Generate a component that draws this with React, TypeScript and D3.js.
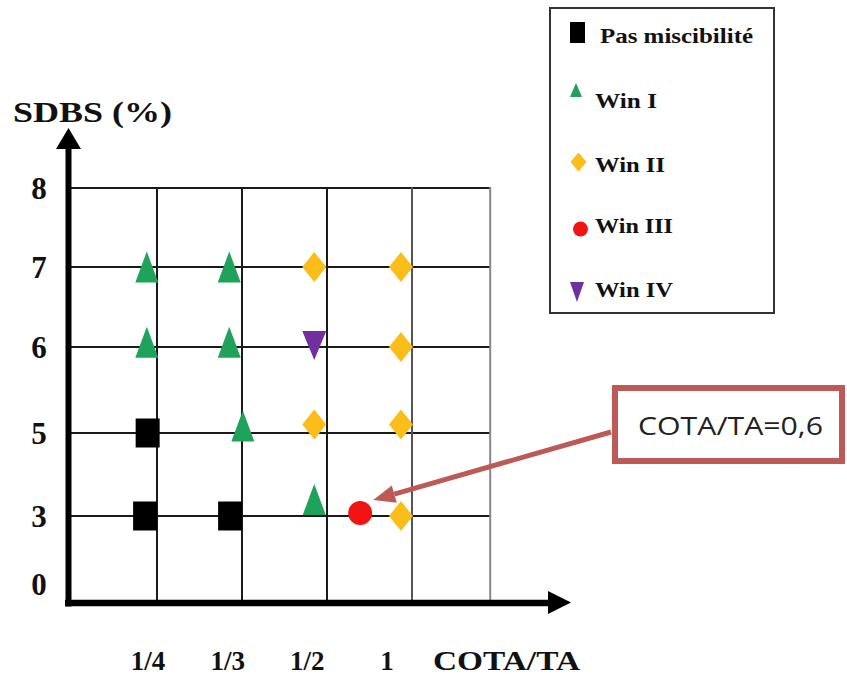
import React from "react";
import * as d3 from "d3";

// ---- data ----
const xTickLabels = ["1/4", "1/3", "1/2", "1"];
const xAxisTitle = "COTA/TA";
const yLevels = [0, 3, 5, 6, 7, 8];
const yAxisTitle = "SDBS (%)";
const legendNames = ["Pas miscibilité", "Win I", "Win II", "Win III", "Win IV"];
// x expressed in grid-column units (column lines at 1,2,3,4)
const pasMiscibilite = [
  { x: 0.89, y: 5 },
  { x: 0.86, y: 3 },
  { x: 1.86, y: 3 },
];
const winI = [
  { x: 0.88, y: 7 },
  { x: 0.88, y: 6.06 },
  { x: 1.85, y: 7 },
  { x: 1.85, y: 6.06 },
  { x: 2.01, y: 5.08 },
  { x: 2.85, y: 3.4 },
];
const winII = [
  { x: 2.85, y: 7 },
  { x: 3.87, y: 7 },
  { x: 3.87, y: 6 },
  { x: 2.85, y: 5.1 },
  { x: 3.87, y: 5.1 },
  { x: 3.87, y: 3 },
];
const winIII = [{ x: 3.39, y: 3.07 }];
const winIV = [{ x: 2.85, y: 6.02 }];
const gridColumns = [1, 2, 3, 4, 4.92];
const annotationText = "COTA/TA=0,6";

const GREEN = "#1fa25a";
const YELLOW = "#fbbd19";
const RED = "#f21313";
const PURPLE = "#7030a0";
const BROWN = "#bd5a57";
const SERIF = "'Liberation Serif', 'Times New Roman', serif";

type Kind = "square" | "tri" | "diamond" | "circle" | "down";

function Marker({ kind, cx, cy, w, h, color }: { kind: Kind; cx: number; cy: number; w: number; h: number; color: string }) {
  if (kind === "square") return <rect x={cx - w / 2} y={cy - h / 2} width={w} height={h} fill={color} />;
  if (kind === "circle") return <circle cx={cx} cy={cy} r={w / 2} fill={color} />;
  let pts: [number, number][];
  if (kind === "tri") pts = [[cx, cy - h / 2], [cx + w / 2, cy + h / 2], [cx - w / 2, cy + h / 2]];
  else if (kind === "down") pts = [[cx - w / 2, cy - h / 2], [cx + w / 2, cy - h / 2], [cx, cy + h / 2]];
  else pts = [[cx, cy - h / 2], [cx + w / 2, cy], [cx, cy + h / 2], [cx - w / 2, cy]];
  return <polygon points={pts.map((p) => p.join(",")).join(" ")} fill={color} />;
}

export default function App() {
  const x = d3.scaleLinear().domain([0, 4]).range([72, 412]);
  const y = d3.scaleLinear().domain(yLevels).range([603, 516, 433, 347, 267, 188]);
  const xLab = d3.scalePoint<string>().domain(xTickLabels).range([148, 387]);

  const axisX = 68.5;
  const axisY = 603;
  const gridRight = x(gridColumns[gridColumns.length - 1]);
  const top = y(8);

  const series: { pts: { x: number; y: number }[]; kind: Kind; color: string; w: number; h: number }[] = [
    { pts: pasMiscibilite, kind: "square", color: "#000", w: 24, h: 29 },
    { pts: winI, kind: "tri", color: GREEN, w: 23, h: 31 },
    { pts: winII, kind: "diamond", color: YELLOW, w: 24, h: 30 },
    { pts: winIII, kind: "circle", color: RED, w: 24, h: 24 },
    { pts: winIV, kind: "down", color: PURPLE, w: 24, h: 29 },
  ];

  const legendMarkers: { kind: Kind; color: string; w: number; h: number; cx: number; cy: number }[] = [
    { kind: "square", color: "#000", w: 15, h: 21, cx: 577.5, cy: 32.5 },
    { kind: "tri", color: GREEN, w: 12, h: 14, cx: 576, cy: 90 },
    { kind: "diamond", color: YELLOW, w: 16, h: 19, cx: 578.5, cy: 162 },
    { kind: "circle", color: RED, w: 15, h: 15, cx: 580.5, cy: 229 },
    { kind: "down", color: PURPLE, w: 14, h: 20, cx: 577, cy: 292 },
  ];
  const legendText = [
    { x: 600, y: 43, len: 153 },
    { x: 595, y: 108, len: 62 },
    { x: 595, y: 172, len: 70 },
    { x: 595, y: 233, len: 78 },
    { x: 595, y: 297, len: 78 },
  ];

  // annotation arrow towards the Win III point
  const target = winIII[0];
  const tip: [number, number] = [x(target.x) + 13, y(target.y) - 13];
  const start: [number, number] = [611, 432];
  const ang = Math.atan2(tip[1] - start[1], tip[0] - start[0]);
  const headLen = 22;
  const headW = 9;
  const base: [number, number] = [tip[0] - headLen * Math.cos(ang), tip[1] - headLen * Math.sin(ang)];
  const perp: [number, number] = [-Math.sin(ang), Math.cos(ang)];

  return (
    <svg width={847} height={684} style={{ position: "absolute", left: 0, top: 0, background: "#fff" }}>
      {/* legend box */}
      <rect x={550} y={8} width={224} height={305} fill="#fff" stroke="#333" strokeWidth={2} />
      {legendMarkers.map((m, i) => (
        <Marker key={i} kind={m.kind} cx={m.cx} cy={m.cy} w={m.w} h={m.h} color={m.color} />
      ))}
      {legendNames.map((n, i) => (
        <text key={n} x={legendText[i].x} y={legendText[i].y} fontFamily={SERIF} fontWeight="bold" fontSize={21} fill="#111"
          textLength={legendText[i].len} lengthAdjust="spacingAndGlyphs">
          {n}
        </text>
      ))}

      {/* y title */}
      <text x={13} y={122} fontFamily={SERIF} fontWeight="bold" fontSize={30} fill="#111" textLength={159} lengthAdjust="spacingAndGlyphs">
        {yAxisTitle}
      </text>

      {/* grid */}
      {yLevels.filter((v) => v > 0).map((v) => (
        <line key={"h" + v} x1={axisX} x2={gridRight} y1={y(v)} y2={y(v)} stroke="#1a1a1a" strokeWidth={2} />
      ))}
      {gridColumns.map((c, i) => (
        <line key={"v" + c} x1={x(c)} x2={x(c)} y1={top - 1} y2={axisY}
          stroke={i < 3 ? "#1a1a1a" : i === 3 ? "#555" : "#888"} strokeWidth={2} />
      ))}

      {/* axes */}
      <line x1={axisX} x2={axisX} y1={146} y2={axisY + 3.5} stroke="#000" strokeWidth={6} />
      <polygon points={`${axisX - 12.5},149 ${axisX + 12.5},149 ${axisX},128`} fill="#000" />
      <line x1={65} x2={551} y1={axisY} y2={axisY} stroke="#000" strokeWidth={6.5} />
      <polygon points={`548,591 548,614 571,602.5`} fill="#000" />

      {/* y tick labels */}
      {yLevels.map((v) => (
        <text key={"yl" + v} x={39} y={Math.min(y(v), y(0) - 19)} dy="0.36em" textAnchor="middle" fontFamily={SERIF}
          fontWeight="bold" fontSize={31} fill="#111">
          {v}
        </text>
      ))}

      {/* x tick labels */}
      {xTickLabels.map((t) => (
        <text key={t} x={xLab(t)} y={670} textAnchor="middle" fontFamily={SERIF} fontWeight="bold" fontSize={27} fill="#111">
          {t}
        </text>
      ))}
      <text x={433} y={670} fontFamily={SERIF} fontWeight="bold" fontSize={27} fill="#111" textLength={147} lengthAdjust="spacingAndGlyphs">
        {xAxisTitle}
      </text>

      {/* points */}
      {series.map((s, si) =>
        s.pts.map((p, pi) => (
          <Marker key={si + "-" + pi} kind={s.kind} cx={x(p.x)} cy={y(p.y)} w={s.w} h={s.h} color={s.color} />
        ))
      )}

      {/* annotation */}
      <line x1={start[0]} y1={start[1]} x2={base[0]} y2={base[1]} stroke={BROWN} strokeWidth={5} />
      <polygon
        points={[
          tip,
          [base[0] + perp[0] * headW, base[1] + perp[1] * headW],
          [base[0] - perp[0] * headW, base[1] - perp[1] * headW],
        ].map((p) => p.join(",")).join(" ")}
        fill={BROWN}
      />
      <rect x={615} y={388} width={227} height={73} fill="#fff" stroke={BROWN} strokeWidth={6} />
      <text x={730.5} y={435} textAnchor="middle" fontFamily="'Open Sans', 'Noto Sans', sans-serif" fontSize={25} fill="#222"
        textLength={185} lengthAdjust="spacingAndGlyphs">
        {annotationText}
      </text>
    </svg>
  );
}
